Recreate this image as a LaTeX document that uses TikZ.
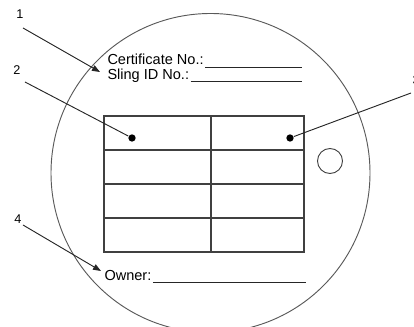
\documentclass[tikz,border=0pt]{standalone}
\usepackage{fontspec}
\setmainfont{Liberation Sans}
\usetikzlibrary{arrows.meta}

\tikzset{every picture/.style={line width=0.75pt}}

\begin{document}
\begin{tikzpicture}[x=0.75pt,y=0.75pt,yscale=-1,xscale=1,
  txt/.style={inner sep=0.75pt,font=\fontsize{10.9}{13}\selectfont},
  num/.style={inner sep=0.75pt,font=\fontsize{9.5}{11}\selectfont},
  rule/.style={draw=black!85,line width=0.7pt},
  dot/.style={circle,fill=black,inner sep=0pt,minimum size=5.5pt},
  pointer/.style={draw=black!85,line width=0.7pt,-{Triangle[length=6pt,width=4.5pt]}},
  leader/.style={draw=black!85,line width=0.7pt}]
\useasboundingbox (0,0) rectangle (414,327);

%Shape: Circle [id:tag]
\draw [black!65,line width=0.7pt] (210.5,173) circle [radius=159.5];
%Shape: Circle [id:hole]
\draw [black!75,line width=0.7pt] (330,161) circle [radius=12.5];

%Shape: Table [id:grid]
\draw [black!75,line width=0.8pt] (104,116) rectangle (304,252);
\foreach \y in {150,184,218}
  \draw [black!75,line width=0.8pt] (104,\y) -- (304,\y);
\draw [black!75,line width=0.8pt] (211,116) -- (211,252);

% Text Node
\node (cert) [txt,anchor=base west] at (106,65) {Certificate No.:};
% Text Node
\node (sling) [txt,anchor=base west] at (106,79.5) {Sling ID No.:};
% Text Node
\node (owner) [txt,anchor=base west] at (103,280.5) {Owner:};

%Straight Lines [id:underlines]
\coordinate (ucert) at (302,67);
\coordinate (usling) at (302,81.5);
\coordinate (uowner) at (306,282);
\draw [rule] (cert.east |- ucert) -- (ucert);
\draw [rule] (sling.east |- usling) -- (usling);
\draw [rule] (owner.east |- uowner) -- (uowner);

%Shape: Dots
\node (dleft) [dot] at (132,138) {};
\node (dright) [dot] at (290,138) {};

% Text Node
\node (n1) [num] at (20,14) {1};
% Text Node
\node (n2) [num] at (17,70) {2};
% Text Node
\node (n3) [num,anchor=west] at (411,80) {3};
% Text Node
\node (n4) [num] at (18,219) {4};

%Straight Lines [id:pointers]
\coordinate (s1) at (23,28);
\coordinate (t1) at (100,72);
\draw [pointer] (s1) -- (t1);
\coordinate (s2) at (25,82);
\draw [leader] (s2) -- (dleft);
\coordinate (s3) at (411,93);
\draw [leader] (s3) -- (dright);
\coordinate (s4) at (23,225);
\coordinate (t4) at (101,271);
\draw [pointer] (s4) -- (t4);

\end{tikzpicture}
\end{document}
